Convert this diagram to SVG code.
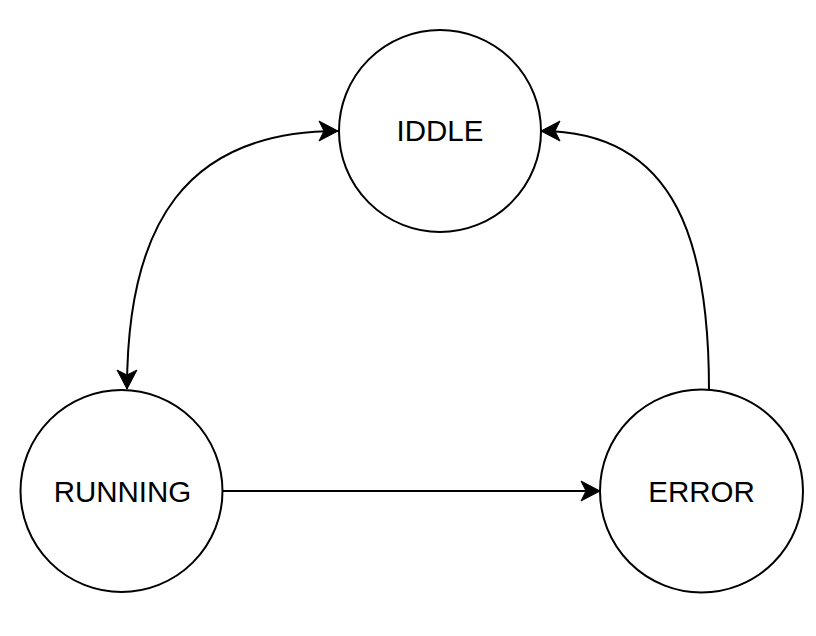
<svg xmlns="http://www.w3.org/2000/svg" width="816" height="636" viewBox="0 0 816 636">
  <defs>
    <style>
      .node circle { fill: #ffffff; stroke: #000000; stroke-width: 2; }
      .node text { font-family: "Liberation Sans", Arial, Helvetica, sans-serif; font-size: 29.5px; fill: #000000; text-anchor: middle; }
      .edge { fill: none; stroke: #000000; stroke-width: 2; }
    </style>
    <marker id="arrow" markerUnits="userSpaceOnUse" markerWidth="22" markerHeight="22" viewBox="0 0 22 22" refX="21" refY="11" orient="auto-start-reverse">
      <path d="M2,1 L21,11 L2,21 L7,11 Z" fill="#000000" stroke="#000000" stroke-width="1"/>
    </marker>
  </defs>
  <rect width="816" height="636" fill="#ffffff"/>
  <g id="connectors">
    <path class="edge" d="M127,389 C127,225 185,131 338,131" marker-start="url(#arrow)" marker-end="url(#arrow)"/>
    <path class="edge" d="M709,390 C709,250 680,131 541,131" marker-end="url(#arrow)"/>
    <path class="edge" d="M222,491 L600,491" marker-end="url(#arrow)"/>
  </g>
  <g id="node-iddle" class="node">
    <circle cx="440" cy="131" r="101"/>
    <text x="440" y="141">IDDLE</text>
  </g>
  <g id="node-running" class="node">
    <circle cx="121.5" cy="491" r="101"/>
    <text x="122.5" y="502">RUNNING</text>
  </g>
  <g id="node-error" class="node">
    <circle cx="701.5" cy="491" r="101.5"/>
    <text x="701.5" y="502">ERROR</text>
  </g>
</svg>
